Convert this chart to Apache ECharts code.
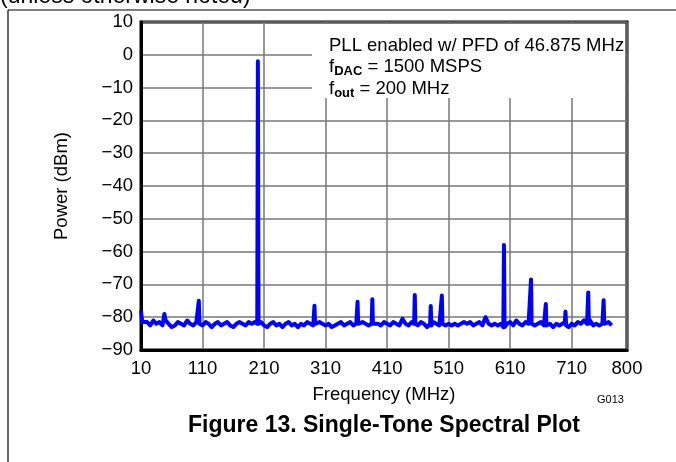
<!DOCTYPE html>
<html>
<head>
<meta charset="utf-8">
<script src="https://cdn.jsdelivr.net/npm/echarts@6/dist/echarts.min.js"></script>
<style>html,body{margin:0;padding:0;background:#fff;}#c{width:676px;height:462px;}</style>
</head>
<body>
<div id="c"></div>
<script>
var freqMHz = [10,12,15,20,25,30,35,40,45,48,50,55,60,65,70,75,80,85,90,95,100,103,104,105,110,115,120,125,130,135,140,145,150,155,160,165,170,175,180,185,190,195,199,200,201,205,210,215,220,225,230,235,240,245,250,255,260,265,270,275,280,285,290,291,292,293,295,300,305,310,315,320,325,330,335,340,345,350,355,360,361,362,363,365,370,375,380,385,386,387,390,395,400,405,410,415,420,425,430,435,440,445,450,454,455,456,460,465,470,475,480,481,482,485,490,495,498,499,500,505,510,515,520,525,530,535,540,545,550,555,560,565,570,575,580,585,590,595,599,600,601,605,610,615,620,625,630,635,640,643,644,645,650,655,660,665,667,668,669,675,680,685,690,695,699,700,701,705,710,715,720,725,730,735,736,737,738,740,745,750,755,760,761,762,763,765,770,775];
var powerDbm = [-78,-81.5,-82,-81.5,-82.5,-81,-82,-81.5,-82.5,-79,-81,-82,-83,-82.5,-81.5,-82,-82.5,-81,-82,-82.5,-81.5,-82,-75,-82,-82.5,-81.5,-82,-83,-82,-81.5,-82.5,-82,-81.5,-82.5,-83,-82,-81.5,-82,-82.5,-81.5,-82,-81.5,-82,-2,-82,-81.5,-82.5,-83,-82,-81.5,-82.5,-82,-83,-82,-81.5,-82.5,-82,-83,-82,-82.5,-81.5,-82,-82.5,-82,-76.5,-82,-82.5,-81.5,-82,-82.5,-82,-83,-82.5,-82,-81.5,-82.5,-82,-81.5,-82.5,-82,-81.5,-75.3,-82,-82.5,-81.5,-82,-82.5,-82,-74.5,-82,-81.5,-82,-82.5,-81.5,-82,-82.5,-81.5,-82,-82.5,-80.5,-82,-82.5,-81.5,-82,-73.2,-82,-82.5,-81.5,-82,-83,-82,-76.6,-82.5,-81.5,-82,-82.5,-82,-73.4,-82,-82.5,-82,-82.5,-82,-82.5,-82,-81.5,-82,-81.5,-82.5,-82,-81.5,-82.5,-80,-82,-82.5,-82,-82.5,-82,-83,-58,-83,-82,-81.5,-82.5,-81,-82,-82.5,-81.5,-82,-81.5,-68.5,-82,-82.5,-82,-81.5,-82.5,-82,-76,-82.5,-82,-83,-82,-82.5,-82,-81.5,-78.3,-82.5,-83,-82,-82.5,-81.5,-82,-81,-82,-81.5,-72.5,-82,-81,-82.5,-82,-82.5,-82,-82.5,-74.8,-82,-82.5,-81.5,-82.5];
var xTicks = {min: 10, max: 800, step: 100};
var yTicks = {min: -90, max: 10, step: 10};
var noteLines = ['PLL enabled w/ PFD of 46.875 MHz', 'f{sub|DAC} = 1500 MSPS', 'f{sub|out} = 200 MHz'];

var FONT = '"Liberation Sans", Arial, sans-serif';
var data = freqMHz.map(function (f, i) { return [f, powerDbm[i]]; });
function minus(v) { return String(v).replace('-', '\u2212'); }

var chart = echarts.init(document.getElementById('c'), null, {renderer: 'canvas'});
chart.setOption({
  animation: false,
  backgroundColor: '#fff',
  grid: {left: 141, right: 49, top: 22, bottom: 112, show: true, borderColor: '#000', borderWidth: 3, backgroundColor: 'transparent'},
  xAxis: {
    type: 'value', min: xTicks.min, max: xTicks.max, interval: xTicks.step,
    name: 'Frequency (MHz)', nameLocation: 'middle', nameGap: 35,
    nameTextStyle: {fontFamily: FONT, fontSize: 18.5, color: '#000'},
    axisLine: {show: true, onZero: false, lineStyle: {color: '#000', width: 3}},
    axisTick: {show: false},
    axisLabel: {fontFamily: FONT, fontSize: 18.5, color: '#000', margin: 9, showMaxLabel: true},
    splitLine: {show: true, lineStyle: {color: '#777', width: 1.5}}
  },
  yAxis: {
    type: 'value', min: yTicks.min, max: yTicks.max, interval: yTicks.step,
    name: 'Power (dBm)', nameLocation: 'middle', nameGap: 70,
    nameTextStyle: {fontFamily: FONT, fontSize: 18.5, color: '#000'},
    axisLine: {show: true, onZero: false, lineStyle: {color: '#000', width: 3}},
    axisTick: {show: false},
    axisLabel: {fontFamily: FONT, fontSize: 18.5, color: '#000', margin: 8, formatter: minus},
    splitLine: {show: true, lineStyle: {color: '#777', width: 1.5}}
  },
  series: [{
    type: 'line', data: data, showSymbol: false, symbol: 'none',
    lineStyle: {color: '#0000ff', width: 4, join: 'round'},
    z: 5
  }],
  graphic: [
    {type: 'line', shape: {x1: 8, y1: 10, x2: 676, y2: 10}, style: {stroke: '#000', lineWidth: 1.2}, z: 50},
    {type: 'line', shape: {x1: 8, y1: 10, x2: 8, y2: 462}, style: {stroke: '#000', lineWidth: 1.2}, z: 50},
    {type: 'text', left: 0, top: -15, style: {text: '(unless otherwise noted)', font: '23px ' + FONT, fill: '#000'}, z: 50},
    {type: 'rect', shape: {x: 312, y: 24, width: 313, height: 74}, style: {fill: '#fff'}, z: 40},
    {type: 'text', left: 329, top: 35, z: 50, style: {
      text: noteLines.join('\n'), fill: '#000', font: '18.5px ' + FONT, lineHeight: 21.5,
      rich: {sub: {fontFamily: FONT, fontSize: 13, fontWeight: 'bold', fill: '#000', verticalAlign: 'bottom', lineHeight: 14, padding: [6, 0, 0, 0]}}
    }},
    {type: 'text', left: 597, top: 394, style: {text: 'G013', font: '11px ' + FONT, fill: '#000'}, z: 50},
    {type: 'text', left: 188, top: 414, style: {text: 'Figure 13. Single-Tone Spectral Plot', font: 'bold 23px ' + FONT, fill: '#000'}, z: 50}
  ]
});
</script>
</body>
</html>
